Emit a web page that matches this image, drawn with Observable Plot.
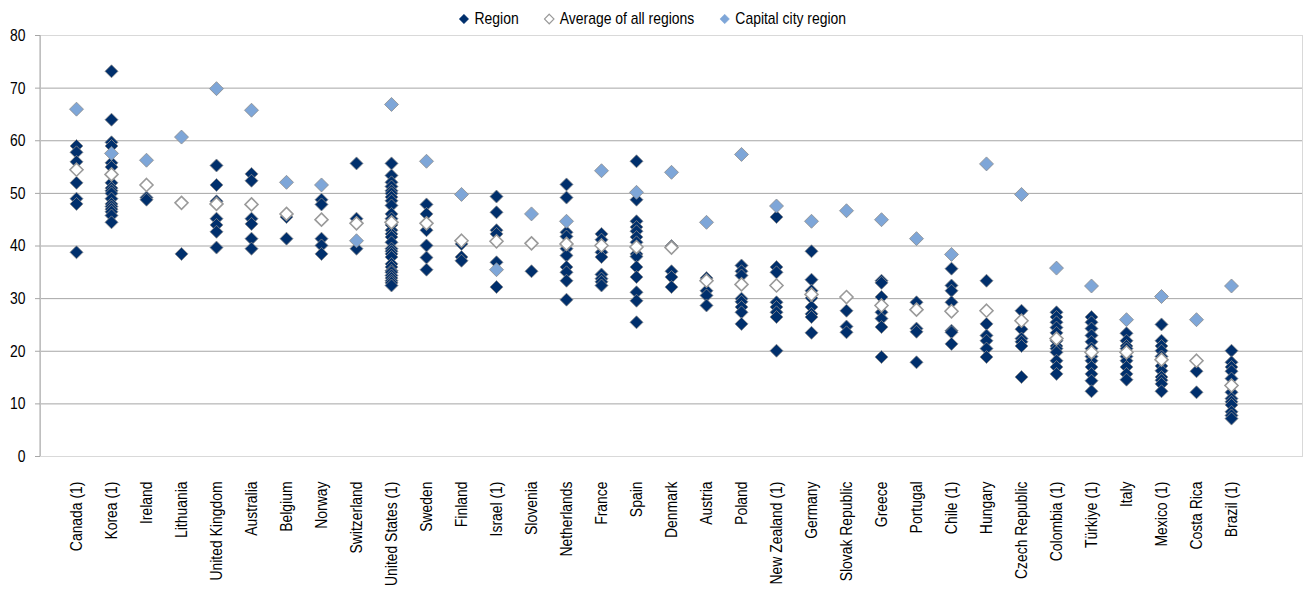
<!DOCTYPE html>
<html>
<head>
<meta charset="utf-8">
<script src="https://cdn.jsdelivr.net/npm/d3@7"></script>
<script src="https://cdn.jsdelivr.net/npm/@observablehq/plot@0.6"></script>
<style>
  html, body { margin: 0; padding: 0; background: #fff; }
  body { width: 1303px; height: 594px; overflow: hidden; font-family: 'Liberation Sans', Arial, sans-serif; }
  #legend { height: 28px; width: 1303px; display: flex; justify-content: center; align-items: center; gap: 30px; font-size: 17px; color: #000; padding-top: 9px; box-sizing: border-box; transform: scaleX(0.82); transform-origin: 655px 50%; }
  #legend .item { display: flex; align-items: center; gap: 6px; }
</style>
</head>
<body>
<div id="legend"></div>
<div id="chart"></div>
<script>
const categories = ["Canada (1)", "Korea (1)", "Ireland", "Lithuania", "United Kingdom", "Australia", "Belgium", "Norway", "Switzerland", "United States (1)", "Sweden", "Finland", "Israel (1)", "Slovenia", "Netherlands", "France", "Spain", "Denmark", "Austria", "Poland", "New Zealand (1)", "Germany", "Slovak Republic", "Greece", "Portugal", "Chile (1)", "Hungary", "Czech Republic", "Colombia (1)", "Türkiye (1)", "Italy", "Mexico (1)", "Costa Rica", "Brazil (1)"];

const regionValues = [
  [59, 57.8, 56, 52, 49, 48, 38.8],
  [73.2, 64, 59.7, 59, 55.8, 55, 52, 51, 50.5, 50, 49, 48, 47.5, 47, 46.5, 45.8, 44.5],
  [49.2, 48.8],
  [38.5],
  [55.3, 51.6, 48.5, 45.2, 44, 42.7, 39.7],
  [53.7, 52.4, 45.2, 44.2, 41.4, 39.5],
  [45.5, 41.4],
  [48.8, 47.9, 41.4, 40.1, 38.5],
  [55.7, 45.2, 39.5],
  [55.7, 53.4, 52.1, 51.3, 50.5, 50, 49.3, 48.6, 47.7, 46.1, 45.2, 44, 43, 42.3, 41.7, 40.7, 39.5, 39, 38.5, 37.9, 36.6, 36, 35.3, 35, 34.4, 33.9, 33.4, 33, 32.5],
  [47.9, 46.1, 43, 40.1, 37.8, 35.5],
  [40.4, 37.9, 37.2],
  [49.4, 46.4, 43, 42.3, 36.9, 32.2],
  [35.2],
  [51.7, 49.2, 42.6, 41.8, 39.5, 38.2, 36, 35, 33.4, 29.8],
  [42.3, 41.2, 38.8, 37.9, 34.6, 33.8, 33.2, 32.5],
  [56.1, 48.8, 44.7, 43.6, 42.8, 41.7, 40.7, 38.5, 38, 36, 34.1, 31.2, 29.6, 25.5],
  [40, 35.2, 34.1, 32.2],
  [33.9, 31.5, 30.6, 28.7],
  [36.3, 35.2, 34.4, 30, 29.4, 28.4, 27.4, 25.2],
  [45.5, 36, 35, 29.3, 28.4, 27.4, 26.5, 20.1],
  [39, 33.6, 31.5, 30.1, 28.4, 27.1, 26.5, 23.5],
  [27.7, 24.7, 23.6],
  [33.4, 33, 30.3, 27.4, 26.2, 24.6, 18.9],
  [29.3, 24.3, 23.7, 17.9],
  [35.7, 32.5, 31.5, 29.3, 23.9, 23.6, 21.4],
  [33.4, 25.2, 23, 22, 20.5, 18.9],
  [27.7, 24.2, 22.4, 21.8, 21, 15.1],
  [27.4, 26.5, 25.5, 24.5, 23.5, 22, 21, 20.5, 19.8, 18.2, 17, 15.7],
  [26.5, 25.5, 24.3, 23, 21.8, 20.5, 19, 18.2, 17, 15.7, 14.4, 12.4],
  [23.4, 22, 21, 20.5, 19, 18.2, 17, 15.7, 14.6],
  [25.1, 22, 21, 20.1, 19, 17.2, 16.3, 15.1, 14.5, 13.8, 12.4],
  [16.2, 12.2],
  [20.1, 17.9, 17, 16.2, 14.8, 13.5, 12.2, 11, 10.4, 9.8, 8.5, 7.8, 7.2]
];

const averageValues = [54.5, 53.6, 51.6, 48.2, 48, 47.9, 46.1, 45, 44.3, 44.5, 44.3, 41, 40.9, 40.5, 40.4, 40.1, 39.8, 39.7, 33.4, 32.7, 32.5, 30.8, 30.3, 28.7, 27.9, 27.6, 27.7, 25.8, 22.4, 19.8, 19.8, 18.4, 18.2, 13.5];

const capitalValues = [66, 57.6, 56.3, 60.7, 69.9, 65.8, 52.1, 51.6, 41, 66.9, 56.1, 49.8, 35.5, 46.1, 44.7, 54.3, 50.2, 54, 44.5, 57.4, 47.6, 44.7, 46.7, 45, 41.4, 38.4, 55.6, 49.8, 35.8, 32.4, 26, 30.4, 26, 32.4];

const yTicks = [0, 10, 20, 30, 40, 50, 60, 70, 80];

const seriesNames = ["Region", "Average of all regions", "Capital city region"];
const colRegion = "#002F6C";
const colCapital = "#7EA6D8";

const regionData = categories.flatMap((c, i) => regionValues[i].map(v => ({country: c, value: v})));
const avgData = categories.map((c, i) => ({country: c, value: averageValues[i]}));
const capData = categories.map((c, i) => ({country: c, value: capitalValues[i]}));

// square diamond symbol (rotated square)
const diamond = {
  draw(context, size) {
    const h = Math.sqrt(size / Math.PI);
    context.moveTo(0, -h);
    context.lineTo(h, 0);
    context.lineTo(0, h);
    context.lineTo(-h, 0);
    context.closePath();
  }
};

const fontFamily = "'Liberation Sans', Arial, sans-serif";

const chart = Plot.plot({
  width: 1303,
  height: 566,
  marginLeft: 40,
  marginRight: 1,
  marginTop: 7,
  marginBottom: 138,
  style: {fontFamily, fontSize: "17px", color: "#000", background: "#fff", overflow: "visible"},
  x: {type: "point", domain: categories, padding: 1.5, align: 1 / 3},
  y: {domain: [0, 80]},
  marks: [
    Plot.gridY(yTicks.slice(1, -1), {stroke: "#a6a6a6", strokeOpacity: 1, strokeWidth: 1}),
    Plot.frame({stroke: "#d9d9d9", strokeWidth: 1}),
    (index, scales, values, dims) => {
      const l = document.createElementNS("http://www.w3.org/2000/svg", "line");
      const x = dims.marginLeft;
      l.setAttribute("x1", x); l.setAttribute("x2", x);
      l.setAttribute("y1", dims.marginTop); l.setAttribute("y2", dims.height - dims.marginBottom);
      l.setAttribute("stroke", "#a6a6a6");
      return l;
    },
    Plot.axisY(yTicks, {tickSize: 5, tickPadding: 10, stroke: "#a6a6a6", label: null, fontSize: 17}),
    Plot.axisX({tickSize: 0, tickPadding: 25, tickRotate: -90, label: null, fontSize: 17}),
    Plot.dot(regionData, {x: "country", y: "value", symbol: diamond, r: 6.5, fill: colRegion, stroke: "#8c8c8c", strokeWidth: 0.8}),
    Plot.dot(avgData, {x: "country", y: "value", symbol: diamond, r: 6.5, fill: "#fff", stroke: "#9a9a9a", strokeWidth: 1.6}),
    Plot.dot(capData, {x: "country", y: "value", symbol: diamond, r: 7, fill: colCapital, stroke: "#8c8c8c", strokeWidth: 0.8})
  ]
});
// emulate a narrow typeface: compress text along its own writing direction
chart.querySelectorAll("text").forEach(t => {
  const tr = t.getAttribute("transform") || "";
  t.setAttribute("transform", (tr + " scale(0.82,1)").trim());
});
document.getElementById("chart").appendChild(chart);

// legend
const legend = document.getElementById("legend");
const legendStyles = [
  {fill: colRegion, stroke: colRegion, sw: 0.5},
  {fill: "#fff", stroke: "#9a9a9a", sw: 1.3},
  {fill: colCapital, stroke: colCapital, sw: 0.5}
];
seriesNames.forEach((name, i) => {
  const s = legendStyles[i];
  const item = document.createElement("div");
  item.className = "item";
  item.innerHTML = `<svg width="14" height="12" viewBox="-7 -6 14 12"><path d="M0,-4.8L5.8,0L0,4.8L-5.8,0Z" fill="${s.fill}" stroke="${s.stroke}" stroke-width="${s.sw}"/></svg><span>${name}</span>`;
  legend.appendChild(item);
});
</script>
</body>
</html>
